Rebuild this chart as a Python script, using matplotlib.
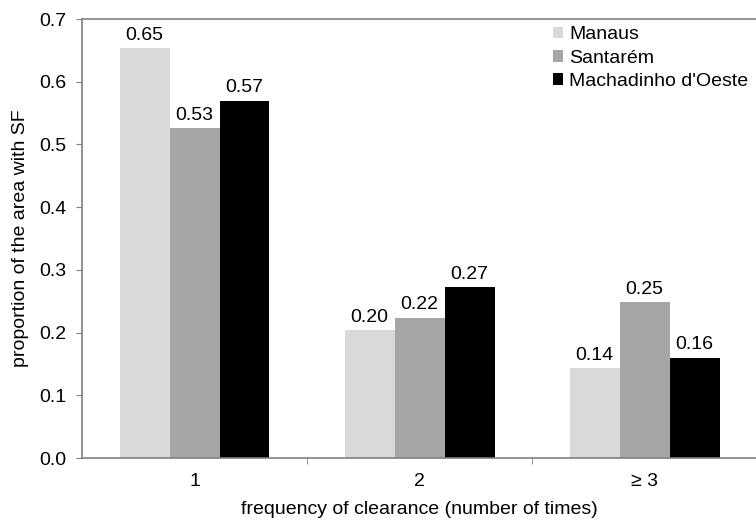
import numpy as np
import matplotlib
matplotlib.use('Agg')
import matplotlib.pyplot as plt

plt.rcParams['font.family'] = ['Liberation Sans', 'DejaVu Sans']

categories = ['1', '2', '≥ 3']
regions = ['Manaus', 'Santarém', "Machadinho d'Oeste"]
manaus = [0.653, 0.204, 0.144]
santarem = [0.526, 0.224, 0.249]
machadinho = [0.570, 0.272, 0.160]
colors = ['#d9d9d9', '#a6a6a6', '#000000']

axis_gray = '#808080'
fs = 14

fig = plt.figure(figsize=(7.56, 5.22), dpi=100)
ax = fig.add_axes([0.1085, 0.1226, 0.893, 0.841])

x = np.arange(len(categories))
w = 0.222
series = [manaus, santarem, machadinho]
for i, (vals, c, name) in enumerate(zip(series, colors, regions)):
    pos = x + (i - 1) * w
    bars = ax.bar(pos, vals, width=w, color=c, label=name, edgecolor='none')
    for b, v in zip(bars, vals):
        ax.annotate('%.2f' % v, (b.get_x() + b.get_width() / 2, v),
                    xytext=(0, 3), textcoords='offset points',
                    ha='center', va='bottom', fontsize=fs)

ax.set_xlim(-0.5, 2.5)
ax.set_ylim(0, 0.7)
ax.set_yticks(np.arange(0, 0.71, 0.1))
ax.set_yticklabels(['%.1f' % t for t in np.arange(0, 0.71, 0.1)])
ax.set_xticks(x)
ax.set_xticklabels(categories)
ax.set_xticks([0.5, 1.5], minor=True)
ax.tick_params(axis='x', which='major', length=0, pad=11, labelsize=fs)
ax.tick_params(axis='x', which='minor', length=4.5, color=axis_gray, direction='out')
ax.tick_params(axis='y', length=4.5, color=axis_gray, direction='out', labelsize=fs, pad=7)

for s in ax.spines.values():
    s.set_color(axis_gray)
    s.set_linewidth(1.2)

ax.set_xlabel('frequency of clearance (number of times)', fontsize=fs, labelpad=8)
ax.set_ylabel('proportion of the area with SF', fontsize=fs, labelpad=7)

leg = ax.legend(loc='upper left', bbox_to_anchor=(0.697, 0.983), frameon=False,
                fontsize=fs, handlelength=0.55, handleheight=0.55,
                handletextpad=0.3, labelspacing=0.32, borderaxespad=0,
                borderpad=0)

fig.savefig('out.png', dpi=100)
